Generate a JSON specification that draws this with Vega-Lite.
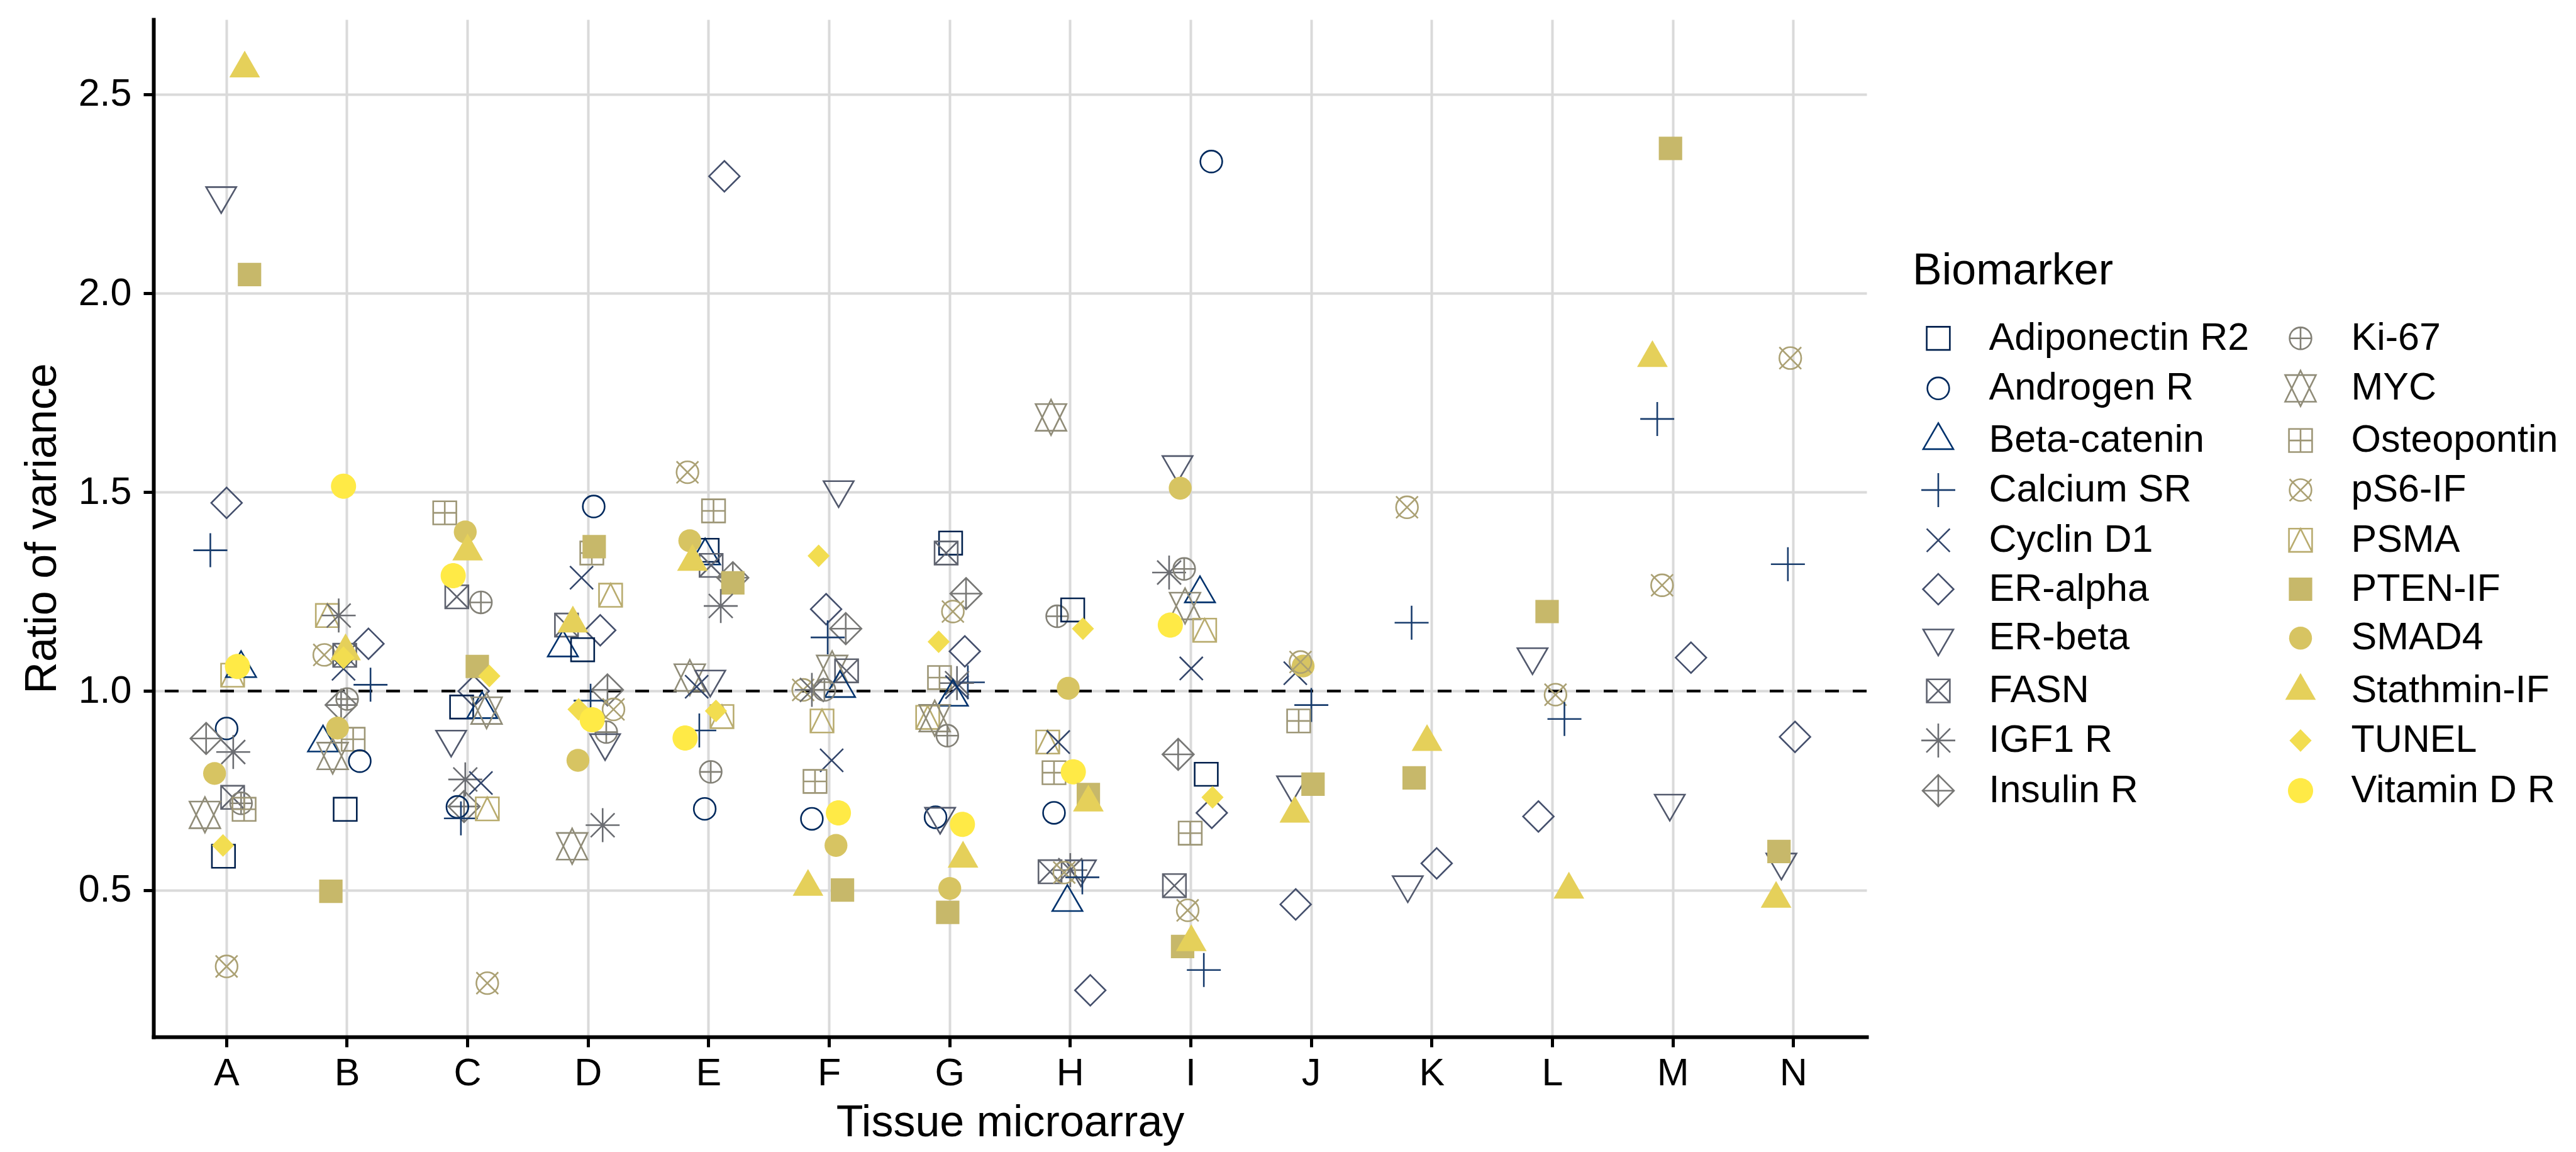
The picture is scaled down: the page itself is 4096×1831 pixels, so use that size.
{
  "$schema": "https://vega.github.io/schema/vega-lite/v6.json",
  "width": 2724,
  "height": 1617,
  "autosize": {"type": "none"},
  "padding": {"left": 244, "top": 31, "right": 1128, "bottom": 183},
  "background": "white",
  "config": {
    "view": {"stroke": null},
    "font": "Liberation Sans",
    "axis": {
      "labelFont": "Liberation Sans", "titleFont": "Liberation Sans",
      "labelFontSize": 61, "titleFontSize": 70, "titleFontWeight": "normal",
      "labelColor": "black", "titleColor": "black",
      "domainColor": "black", "domainWidth": 6, "domainCap": "square",
      "tickColor": "black", "tickWidth": 5, "tickSize": 16,
      "gridColor": "#DADADA", "gridWidth": 4
    },
    "legend": {
      "orient": "none", "legendX": 2797, "legendY": 366,
      "columns": 2, "padding": 0,
      "titleFont": "Liberation Sans", "labelFont": "Liberation Sans",
      "titleFontSize": 70, "titleFontWeight": "normal", "titleColor": "black",
      "labelFontSize": 61, "labelColor": "black",
      "symbolSize": 1600, "symbolStrokeWidth": 2.6, "symbolOffset": 10.5,
      "labelOffset": 50, "columnPadding": 40, "rowPadding": 15.8, "titlePadding": 40,
      "labelLimit": 1000, "titleLimit": 1000
    }
  },
  "layer": [
    {
      "data": {"values": [{"ratio": 1}]},
      "mark": {"type": "rule", "color": "black", "strokeWidth": 4.2, "strokeDash": [22, 22]},
      "encoding": {"y": {"field": "ratio", "type": "quantitative"}}
    },
    {
      "data": {"values": [
        {"tma":"A","jitter":0.0,"biomarker":"ER-alpha","ratio":1.473},
        {"tma":"A","jitter":-0.135,"biomarker":"Calcium SR","ratio":1.354},
        {"tma":"A","jitter":0.05,"biomarker":"PSMA","ratio":1.04},
        {"tma":"A","jitter":0.12,"biomarker":"Beta-catenin","ratio":1.057},
        {"tma":"A","jitter":0.09,"biomarker":"Vitamin D R","ratio":1.062},
        {"tma":"A","jitter":0.0,"biomarker":"Androgen R","ratio":0.906},
        {"tma":"A","jitter":-0.17,"biomarker":"Insulin R","ratio":0.881},
        {"tma":"A","jitter":0.055,"biomarker":"IGF1 R","ratio":0.847},
        {"tma":"A","jitter":-0.10,"biomarker":"SMAD4","ratio":0.793},
        {"tma":"A","jitter":0.05,"biomarker":"FASN","ratio":0.733},
        {"tma":"A","jitter":0.12,"biomarker":"Ki-67","ratio":0.718},
        {"tma":"A","jitter":0.145,"biomarker":"Osteopontin","ratio":0.703},
        {"tma":"A","jitter":-0.18,"biomarker":"MYC","ratio":0.689},
        {"tma":"A","jitter":-0.026,"biomarker":"Adiponectin R2","ratio":0.585},
        {"tma":"A","jitter":-0.03,"biomarker":"TUNEL","ratio":0.612},
        {"tma":"A","jitter":0.0,"biomarker":"pS6-IF","ratio":0.308},
        {"tma":"A","jitter":-0.045,"biomarker":"ER-beta","ratio":2.245},
        {"tma":"A","jitter":0.19,"biomarker":"PTEN-IF","ratio":2.047},
        {"tma":"A","jitter":0.15,"biomarker":"Stathmin-IF","ratio":2.565},

        {"tma":"B","jitter":-0.03,"biomarker":"Vitamin D R","ratio":1.515},
        {"tma":"B","jitter":-0.164,"biomarker":"PSMA","ratio":1.19},
        {"tma":"B","jitter":-0.07,"biomarker":"IGF1 R","ratio":1.19},
        {"tma":"B","jitter":0.177,"biomarker":"ER-alpha","ratio":1.119},
        {"tma":"B","jitter":-0.19,"biomarker":"pS6-IF","ratio":1.091},
        {"tma":"B","jitter":-0.02,"biomarker":"FASN","ratio":1.09},
        {"tma":"B","jitter":-0.03,"biomarker":"Cyclin D1","ratio":1.056},
        {"tma":"B","jitter":-0.013,"biomarker":"Stathmin-IF","ratio":1.10},
        {"tma":"B","jitter":-0.03,"biomarker":"TUNEL","ratio":1.084},
        {"tma":"B","jitter":0.194,"biomarker":"Calcium SR","ratio":1.016},
        {"tma":"B","jitter":-0.05,"biomarker":"Insulin R","ratio":0.965},
        {"tma":"B","jitter":0.0,"biomarker":"Ki-67","ratio":0.98},
        {"tma":"B","jitter":0.05,"biomarker":"Osteopontin","ratio":0.879},
        {"tma":"B","jitter":-0.2,"biomarker":"Beta-catenin","ratio":0.87},
        {"tma":"B","jitter":-0.12,"biomarker":"MYC","ratio":0.837},
        {"tma":"B","jitter":-0.08,"biomarker":"SMAD4","ratio":0.907},
        {"tma":"B","jitter":0.105,"biomarker":"Androgen R","ratio":0.824},
        {"tma":"B","jitter":-0.016,"biomarker":"Adiponectin R2","ratio":0.703},
        {"tma":"B","jitter":-0.135,"biomarker":"PTEN-IF","ratio":0.497},

        {"tma":"C","jitter":-0.19,"biomarker":"Osteopontin","ratio":1.448},
        {"tma":"C","jitter":-0.02,"biomarker":"SMAD4","ratio":1.40},
        {"tma":"C","jitter":0.0,"biomarker":"Stathmin-IF","ratio":1.351},
        {"tma":"C","jitter":-0.09,"biomarker":"FASN","ratio":1.237},
        {"tma":"C","jitter":-0.12,"biomarker":"Vitamin D R","ratio":1.29},
        {"tma":"C","jitter":0.11,"biomarker":"Ki-67","ratio":1.223},
        {"tma":"C","jitter":0.05,"biomarker":"ER-alpha","ratio":1.0},
        {"tma":"C","jitter":0.08,"biomarker":"PTEN-IF","ratio":1.062},
        {"tma":"C","jitter":0.18,"biomarker":"TUNEL","ratio":1.038},
        {"tma":"C","jitter":-0.05,"biomarker":"Adiponectin R2","ratio":0.96},
        {"tma":"C","jitter":0.12,"biomarker":"Beta-catenin","ratio":0.954},
        {"tma":"C","jitter":0.157,"biomarker":"MYC","ratio":0.951},
        {"tma":"C","jitter":-0.137,"biomarker":"ER-beta","ratio":0.879},
        {"tma":"C","jitter":-0.02,"biomarker":"IGF1 R","ratio":0.778},
        {"tma":"C","jitter":0.11,"biomarker":"Cyclin D1","ratio":0.769},
        {"tma":"C","jitter":-0.03,"biomarker":"Insulin R","ratio":0.71},
        {"tma":"C","jitter":-0.085,"biomarker":"Androgen R","ratio":0.709},
        {"tma":"C","jitter":-0.056,"biomarker":"Calcium SR","ratio":0.68},
        {"tma":"C","jitter":0.163,"biomarker":"PSMA","ratio":0.704},
        {"tma":"C","jitter":0.163,"biomarker":"pS6-IF","ratio":0.266},

        {"tma":"D","jitter":0.046,"biomarker":"Androgen R","ratio":1.464},
        {"tma":"D","jitter":0.03,"biomarker":"Osteopontin","ratio":1.347},
        {"tma":"D","jitter":0.05,"biomarker":"PTEN-IF","ratio":1.363},
        {"tma":"D","jitter":-0.055,"biomarker":"Cyclin D1","ratio":1.285},
        {"tma":"D","jitter":0.186,"biomarker":"PSMA","ratio":1.241},
        {"tma":"D","jitter":-0.18,"biomarker":"FASN","ratio":1.166},
        {"tma":"D","jitter":0.1,"biomarker":"ER-alpha","ratio":1.153},
        {"tma":"D","jitter":-0.21,"biomarker":"Beta-catenin","ratio":1.109},
        {"tma":"D","jitter":-0.046,"biomarker":"Adiponectin R2","ratio":1.104},
        {"tma":"D","jitter":-0.127,"biomarker":"Stathmin-IF","ratio":1.17},
        {"tma":"D","jitter":0.16,"biomarker":"Insulin R","ratio":1.003},
        {"tma":"D","jitter":0.02,"biomarker":"Calcium SR","ratio":0.976},
        {"tma":"D","jitter":0.21,"biomarker":"pS6-IF","ratio":0.954},
        {"tma":"D","jitter":0.15,"biomarker":"Ki-67","ratio":0.897},
        {"tma":"D","jitter":0.14,"biomarker":"ER-beta","ratio":0.87},
        {"tma":"D","jitter":-0.08,"biomarker":"TUNEL","ratio":0.954},
        {"tma":"D","jitter":0.033,"biomarker":"Vitamin D R","ratio":0.928},
        {"tma":"D","jitter":-0.085,"biomarker":"SMAD4","ratio":0.826},
        {"tma":"D","jitter":0.12,"biomarker":"IGF1 R","ratio":0.663},
        {"tma":"D","jitter":-0.133,"biomarker":"MYC","ratio":0.61},

        {"tma":"E","jitter":-0.176,"biomarker":"pS6-IF","ratio":1.55},
        {"tma":"E","jitter":0.04,"biomarker":"Osteopontin","ratio":1.453},
        {"tma":"E","jitter":-0.03,"biomarker":"Beta-catenin","ratio":1.34},
        {"tma":"E","jitter":-0.013,"biomarker":"Adiponectin R2","ratio":1.354},
        {"tma":"E","jitter":0.02,"biomarker":"FASN","ratio":1.316},
        {"tma":"E","jitter":0.2,"biomarker":"Insulin R","ratio":1.285},
        {"tma":"E","jitter":-0.157,"biomarker":"SMAD4","ratio":1.378},
        {"tma":"E","jitter":-0.135,"biomarker":"Stathmin-IF","ratio":1.325},
        {"tma":"E","jitter":0.2,"biomarker":"PTEN-IF","ratio":1.272},
        {"tma":"E","jitter":0.1,"biomarker":"IGF1 R","ratio":1.214},
        {"tma":"E","jitter":-0.157,"biomarker":"MYC","ratio":1.034},
        {"tma":"E","jitter":-0.1,"biomarker":"Cyclin D1","ratio":1.011},
        {"tma":"E","jitter":0.013,"biomarker":"ER-beta","ratio":1.03},
        {"tma":"E","jitter":0.11,"biomarker":"PSMA","ratio":0.936},
        {"tma":"E","jitter":0.06,"biomarker":"TUNEL","ratio":0.95},
        {"tma":"E","jitter":-0.078,"biomarker":"Calcium SR","ratio":0.901},
        {"tma":"E","jitter":-0.196,"biomarker":"Vitamin D R","ratio":0.882},
        {"tma":"E","jitter":0.017,"biomarker":"Ki-67","ratio":0.797},
        {"tma":"E","jitter":-0.033,"biomarker":"Androgen R","ratio":0.704},
        {"tma":"E","jitter":0.13,"biomarker":"ER-alpha","ratio":2.294},

        {"tma":"F","jitter":0.078,"biomarker":"ER-beta","ratio":1.506},
        {"tma":"F","jitter":-0.088,"biomarker":"TUNEL","ratio":1.34},
        {"tma":"F","jitter":-0.026,"biomarker":"ER-alpha","ratio":1.206},
        {"tma":"F","jitter":0.137,"biomarker":"Insulin R","ratio":1.157},
        {"tma":"F","jitter":-0.013,"biomarker":"Calcium SR","ratio":1.135},
        {"tma":"F","jitter":0.024,"biomarker":"MYC","ratio":1.056},
        {"tma":"F","jitter":0.144,"biomarker":"FASN","ratio":1.051},
        {"tma":"F","jitter":0.09,"biomarker":"Beta-catenin","ratio":1.007},
        {"tma":"F","jitter":-0.216,"biomarker":"pS6-IF","ratio":1.003},
        {"tma":"F","jitter":-0.144,"biomarker":"IGF1 R","ratio":1.003},
        {"tma":"F","jitter":-0.04,"biomarker":"Ki-67","ratio":1.003},
        {"tma":"F","jitter":-0.06,"biomarker":"PSMA","ratio":0.925},
        {"tma":"F","jitter":0.02,"biomarker":"Cyclin D1","ratio":0.826},
        {"tma":"F","jitter":-0.118,"biomarker":"Osteopontin","ratio":0.773},
        {"tma":"F","jitter":-0.144,"biomarker":"Androgen R","ratio":0.679},
        {"tma":"F","jitter":0.076,"biomarker":"Vitamin D R","ratio":0.694},
        {"tma":"F","jitter":0.056,"biomarker":"SMAD4","ratio":0.612},
        {"tma":"F","jitter":-0.176,"biomarker":"Stathmin-IF","ratio":0.508},
        {"tma":"F","jitter":0.11,"biomarker":"PTEN-IF","ratio":0.5},

        {"tma":"G","jitter":0.007,"biomarker":"Adiponectin R2","ratio":1.372},
        {"tma":"G","jitter":-0.03,"biomarker":"FASN","ratio":1.347},
        {"tma":"G","jitter":0.135,"biomarker":"Insulin R","ratio":1.245},
        {"tma":"G","jitter":0.026,"biomarker":"pS6-IF","ratio":1.2},
        {"tma":"G","jitter":-0.092,"biomarker":"TUNEL","ratio":1.124},
        {"tma":"G","jitter":0.125,"biomarker":"ER-alpha","ratio":1.1},
        {"tma":"G","jitter":-0.085,"biomarker":"Osteopontin","ratio":1.034},
        {"tma":"G","jitter":0.15,"biomarker":"Calcium SR","ratio":1.022},
        {"tma":"G","jitter":0.06,"biomarker":"IGF1 R","ratio":1.02},
        {"tma":"G","jitter":0.06,"biomarker":"Cyclin D1","ratio":1.01},
        {"tma":"G","jitter":0.026,"biomarker":"Beta-catenin","ratio":0.985},
        {"tma":"G","jitter":-0.183,"biomarker":"PSMA","ratio":0.934},
        {"tma":"G","jitter":-0.125,"biomarker":"MYC","ratio":0.932},
        {"tma":"G","jitter":-0.02,"biomarker":"Ki-67","ratio":0.888},
        {"tma":"G","jitter":-0.118,"biomarker":"Androgen R","ratio":0.683},
        {"tma":"G","jitter":-0.08,"biomarker":"ER-beta","ratio":0.685},
        {"tma":"G","jitter":0.105,"biomarker":"Vitamin D R","ratio":0.665},
        {"tma":"G","jitter":0.11,"biomarker":"Stathmin-IF","ratio":0.579},
        {"tma":"G","jitter":0.0,"biomarker":"SMAD4","ratio":0.504},
        {"tma":"G","jitter":-0.017,"biomarker":"PTEN-IF","ratio":0.444},

        {"tma":"H","jitter":-0.16,"biomarker":"MYC","ratio":1.688},
        {"tma":"H","jitter":-0.109,"biomarker":"Ki-67","ratio":1.188},
        {"tma":"H","jitter":0.02,"biomarker":"Adiponectin R2","ratio":1.204},
        {"tma":"H","jitter":0.105,"biomarker":"TUNEL","ratio":1.157},
        {"tma":"H","jitter":-0.017,"biomarker":"SMAD4","ratio":1.007},
        {"tma":"H","jitter":-0.187,"biomarker":"PSMA","ratio":0.872},
        {"tma":"H","jitter":-0.1,"biomarker":"Cyclin D1","ratio":0.872},
        {"tma":"H","jitter":-0.135,"biomarker":"Osteopontin","ratio":0.795},
        {"tma":"H","jitter":0.025,"biomarker":"Vitamin D R","ratio":0.797},
        {"tma":"H","jitter":0.15,"biomarker":"PTEN-IF","ratio":0.74},
        {"tma":"H","jitter":0.15,"biomarker":"Stathmin-IF","ratio":0.72},
        {"tma":"H","jitter":-0.135,"biomarker":"Androgen R","ratio":0.694},
        {"tma":"H","jitter":-0.168,"biomarker":"FASN","ratio":0.546},
        {"tma":"H","jitter":0.0,"biomarker":"IGF1 R","ratio":0.55},
        {"tma":"H","jitter":0.088,"biomarker":"ER-beta","ratio":0.553},
        {"tma":"H","jitter":-0.05,"biomarker":"pS6-IF","ratio":0.544},
        {"tma":"H","jitter":0.1,"biomarker":"Calcium SR","ratio":0.532},
        {"tma":"H","jitter":-0.024,"biomarker":"Beta-catenin","ratio":0.469},
        {"tma":"H","jitter":0.166,"biomarker":"ER-alpha","ratio":0.248},

        {"tma":"I","jitter":-0.11,"biomarker":"ER-beta","ratio":1.569},
        {"tma":"I","jitter":-0.088,"biomarker":"SMAD4","ratio":1.51},
        {"tma":"I","jitter":-0.18,"biomarker":"IGF1 R","ratio":1.298},
        {"tma":"I","jitter":-0.055,"biomarker":"Ki-67","ratio":1.307},
        {"tma":"I","jitter":0.076,"biomarker":"Beta-catenin","ratio":1.245},
        {"tma":"I","jitter":-0.048,"biomarker":"MYC","ratio":1.214},
        {"tma":"I","jitter":-0.17,"biomarker":"Vitamin D R","ratio":1.166},
        {"tma":"I","jitter":0.115,"biomarker":"PSMA","ratio":1.153},
        {"tma":"I","jitter":0.004,"biomarker":"Cyclin D1","ratio":1.057},
        {"tma":"I","jitter":-0.105,"biomarker":"Insulin R","ratio":0.841},
        {"tma":"I","jitter":0.128,"biomarker":"Adiponectin R2","ratio":0.791},
        {"tma":"I","jitter":0.174,"biomarker":"ER-alpha","ratio":0.694},
        {"tma":"I","jitter":0.18,"biomarker":"TUNEL","ratio":0.733},
        {"tma":"I","jitter":-0.005,"biomarker":"Osteopontin","ratio":0.643},
        {"tma":"I","jitter":-0.136,"biomarker":"FASN","ratio":0.511},
        {"tma":"I","jitter":-0.026,"biomarker":"pS6-IF","ratio":0.449},
        {"tma":"I","jitter":-0.068,"biomarker":"PTEN-IF","ratio":0.358},
        {"tma":"I","jitter":0.004,"biomarker":"Stathmin-IF","ratio":0.369},
        {"tma":"I","jitter":0.108,"biomarker":"Calcium SR","ratio":0.299},
        {"tma":"I","jitter":0.17,"biomarker":"Androgen R","ratio":2.331},

        {"tma":"J","jitter":-0.133,"biomarker":"Cyclin D1","ratio":1.045},
        {"tma":"J","jitter":-0.068,"biomarker":"SMAD4","ratio":1.063},
        {"tma":"J","jitter":-0.09,"biomarker":"pS6-IF","ratio":1.073},
        {"tma":"J","jitter":0.0,"biomarker":"Calcium SR","ratio":0.965},
        {"tma":"J","jitter":-0.105,"biomarker":"Osteopontin","ratio":0.925},
        {"tma":"J","jitter":-0.16,"biomarker":"ER-beta","ratio":0.764},
        {"tma":"J","jitter":0.014,"biomarker":"PTEN-IF","ratio":0.766},
        {"tma":"J","jitter":-0.137,"biomarker":"Stathmin-IF","ratio":0.692},
        {"tma":"J","jitter":-0.13,"biomarker":"ER-alpha","ratio":0.464},

        {"tma":"K","jitter":-0.206,"biomarker":"pS6-IF","ratio":1.462},
        {"tma":"K","jitter":-0.168,"biomarker":"Calcium SR","ratio":1.172},
        {"tma":"K","jitter":-0.04,"biomarker":"Stathmin-IF","ratio":0.872},
        {"tma":"K","jitter":-0.147,"biomarker":"PTEN-IF","ratio":0.782},
        {"tma":"K","jitter":0.04,"biomarker":"ER-alpha","ratio":0.567},
        {"tma":"K","jitter":-0.2,"biomarker":"ER-beta","ratio":0.513},

        {"tma":"L","jitter":-0.044,"biomarker":"PTEN-IF","ratio":1.2},
        {"tma":"L","jitter":-0.165,"biomarker":"ER-beta","ratio":1.086},
        {"tma":"L","jitter":0.026,"biomarker":"pS6-IF","ratio":0.991},
        {"tma":"L","jitter":0.1,"biomarker":"Calcium SR","ratio":0.93},
        {"tma":"L","jitter":-0.116,"biomarker":"ER-alpha","ratio":0.685},
        {"tma":"L","jitter":0.137,"biomarker":"Stathmin-IF","ratio":0.501},

        {"tma":"M","jitter":-0.02,"biomarker":"PTEN-IF","ratio":2.364},
        {"tma":"M","jitter":-0.17,"biomarker":"Stathmin-IF","ratio":1.837},
        {"tma":"M","jitter":-0.13,"biomarker":"Calcium SR","ratio":1.684},
        {"tma":"M","jitter":-0.09,"biomarker":"pS6-IF","ratio":1.266},
        {"tma":"M","jitter":0.15,"biomarker":"ER-alpha","ratio":1.084},
        {"tma":"M","jitter":-0.026,"biomarker":"ER-beta","ratio":0.718},

        {"tma":"N","jitter":-0.026,"biomarker":"pS6-IF","ratio":1.837},
        {"tma":"N","jitter":-0.046,"biomarker":"Calcium SR","ratio":1.319},
        {"tma":"N","jitter":0.013,"biomarker":"ER-alpha","ratio":0.885},
        {"tma":"N","jitter":-0.1,"biomarker":"ER-beta","ratio":0.57},
        {"tma":"N","jitter":-0.12,"biomarker":"PTEN-IF","ratio":0.597},
        {"tma":"N","jitter":-0.144,"biomarker":"Stathmin-IF","ratio":0.478}
      ]},
      "mark": {"type": "point", "opacity": 1, "size": 1600, "strokeWidth": 2.6, "strokeCap": "butt", "strokeJoin": "miter"},
      "encoding": {
        "x": {
          "field": "tma", "type": "nominal",
          "scale": {"type": "band", "domain": ["A","B","C","D","E","F","G","H","I","J","K","L","M","N"], "paddingInner": 0, "paddingOuter": 0.107},
          "axis": {"title": "Tissue microarray", "labelAngle": 0, "grid": true, "bandPosition": 0.5, "labelPadding": 12, "titlePadding": 14}
        },
        "xOffset": {"field": "jitter", "type": "quantitative", "scale": {"domain": [-0.5, 0.5]}},
        "y": {
          "field": "ratio", "type": "quantitative",
          "scale": {"domain": [0.131, 2.688], "nice": false, "zero": false},
          "axis": {"title": "Ratio of variance", "values": [0.5, 1, 1.5, 2, 2.5], "format": ".1f", "grid": true, "labelPadding": 19, "titlePadding": 21}
        },
        "shape": {
          "field": "biomarker", "type": "nominal",
          "scale": {
            "domain": ["Adiponectin R2","Androgen R","Beta-catenin","Calcium SR","Cyclin D1","ER-alpha","ER-beta","FASN","IGF1 R","Insulin R","Ki-67","MYC","Osteopontin","pS6-IF","PSMA","PTEN-IF","SMAD4","Stathmin-IF","TUNEL","Vitamin D R"],
            "range": [
              "M-0.92,-0.92L0.92,-0.92L0.92,0.92L-0.92,0.92Z",
              "M0.87,0C0.87,0.48 0.48,0.87 0,0.87C-0.48,0.87 -0.87,0.48 -0.87,0C-0.87,-0.48 -0.48,-0.87 0,-0.87C0.48,-0.87 0.87,-0.48 0.87,0Z",
              "M0,-1.38L1.2,0.69L-1.2,0.69Z",
              "M-1.35,0L1.35,0M0,-1.35L0,1.35",
              "M-0.92,-0.92L0.92,0.92M-0.92,0.92L0.92,-0.92",
              "M0,-1.22L1.22,0L0,1.22L-1.22,0Z",
              "M0,1.38L1.2,-0.69L-1.2,-0.69Z",
              "M-0.92,-0.92L0.92,-0.92L0.92,0.92L-0.92,0.92ZM-0.92,-0.92L0.92,0.92M-0.92,0.92L0.92,-0.92",
              "M-1.35,0L1.35,0M0,-1.35L0,1.35M-0.95,-0.95L0.95,0.95M-0.95,0.95L0.95,-0.95",
              "M0,-1.25L1.25,0L0,1.25L-1.25,0ZM-1.25,0L1.25,0M0,-1.25L0,1.25",
              "M0.87,0C0.87,0.48 0.48,0.87 0,0.87C-0.48,0.87 -0.87,0.48 -0.87,0C-0.87,-0.48 -0.48,-0.87 0,-0.87C0.48,-0.87 0.87,-0.48 0.87,0ZM-0.87,0L0.87,0M0,-0.87L0,0.87",
              "M0,-1.415L1.225,1.06L-1.225,1.06ZM0,1.415L1.225,-1.06L-1.225,-1.06Z",
              "M-0.92,-0.92L0.92,-0.92L0.92,0.92L-0.92,0.92ZM-0.92,0L0.92,0M0,-0.92L0,0.92",
              "M0.87,0C0.87,0.48 0.48,0.87 0,0.87C-0.48,0.87 -0.87,0.48 -0.87,0C-0.87,-0.48 -0.48,-0.87 0,-0.87C0.48,-0.87 0.87,-0.48 0.87,0ZM-0.87,-0.87L0.87,0.87M-0.87,0.87L0.87,-0.87",
              "M-0.92,-0.92L0.92,-0.92L0.92,0.92L-0.92,0.92ZM-0.92,0.92L0,-0.92L0.92,0.92",
              "M-0.93,-0.93L0.93,-0.93L0.93,0.93L-0.93,0.93Z",
              "M0.91,0C0.91,0.5026 0.5026,0.91 0,0.91C-0.5026,0.91 -0.91,0.5026 -0.91,0C-0.91,-0.5026 -0.5026,-0.91 0,-0.91C0.5026,-0.91 0.91,-0.5026 0.91,0Z",
              "M0,-1.42L1.22,0.71L-1.22,0.71Z",
              "M0,-0.9L0.88,0L0,0.9L-0.88,0Z",
              "M1,0C1,0.552 0.552,1 0,1C-0.552,1 -1,0.552 -1,0C-1,-0.552 -0.552,-1 0,-1C0.552,-1 1,-0.552 1,0Z"
            ]
          },
          "legend": {"title": "Biomarker"}
        },
        "fill": {
          "field": "biomarker", "type": "nominal",
          "scale": {
            "domain": ["Adiponectin R2","Androgen R","Beta-catenin","Calcium SR","Cyclin D1","ER-alpha","ER-beta","FASN","IGF1 R","Insulin R","Ki-67","MYC","Osteopontin","pS6-IF","PSMA","PTEN-IF","SMAD4","Stathmin-IF","TUNEL","Vitamin D R"],
            "range": ["transparent","transparent","transparent","transparent","transparent","transparent","transparent","transparent","transparent","transparent","transparent","transparent","transparent","transparent","transparent","#C7B86A","#D7C462","#E5D05A","#F2DD50","#FFEA46"]
          },
          "legend": {"title": "Biomarker"}
        },
        "stroke": {
          "field": "biomarker", "type": "nominal",
          "scale": {
            "domain": ["Adiponectin R2","Androgen R","Beta-catenin","Calcium SR","Cyclin D1","ER-alpha","ER-beta","FASN","IGF1 R","Insulin R","Ki-67","MYC","Osteopontin","pS6-IF","PSMA","PTEN-IF","SMAD4","Stathmin-IF","TUNEL","Vitamin D R"],
            "range": ["#00204D","#00295D","#00326D","#183C6D","#33466B","#444F6C","#52596D","#5F636F","#6B6D72","#777775","#838177","#908C78","#9D9676","#ABA174","#B9AC6F","transparent","transparent","transparent","transparent","transparent"]
          },
          "legend": {"title": "Biomarker"}
        }
      }
    }
  ]
}
